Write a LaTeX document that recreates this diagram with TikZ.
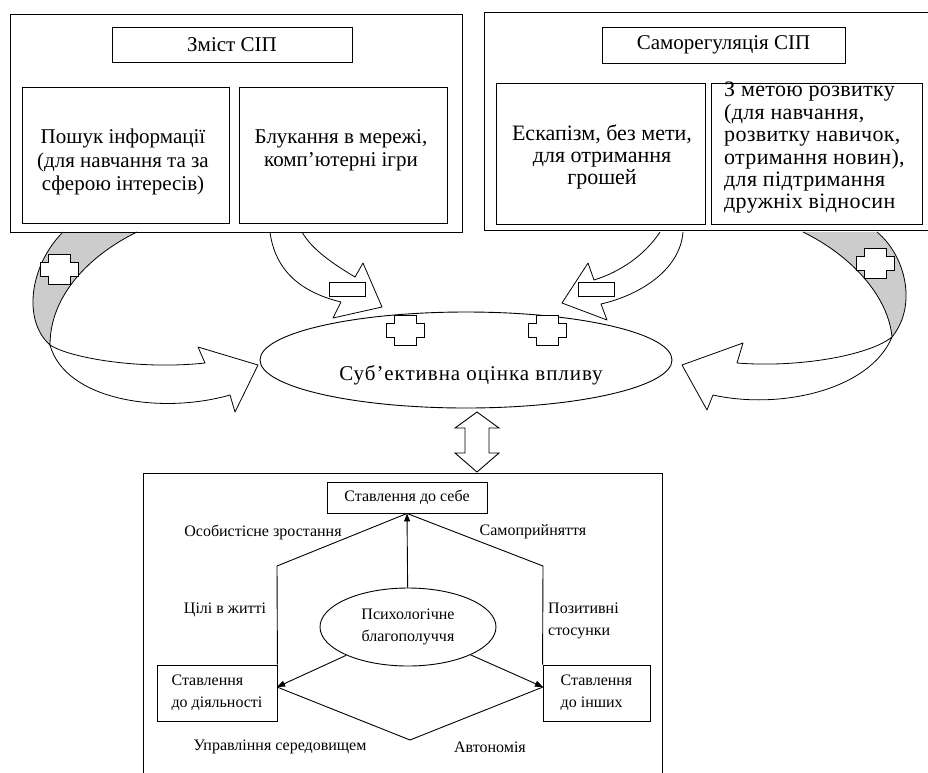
\documentclass[tikz,border=0pt]{standalone}
\usepackage{fontspec}
\setmainfont{Liberation Serif}
\usetikzlibrary{shapes.geometric,arrows.meta,calc}
\begin{document}
\begin{tikzpicture}[x=1pt,y=-1pt,
  box/.style={draw, line width=0.9pt, inner sep=0pt},
  ttxt/.style={font=\fontsize{21}{23.5}\selectfont, align=center, inner sep=0pt},
  rtxt/.style={font=\fontsize{22}{22.4}\selectfont, align=center, inner sep=0pt},
  btxt/.style={font=\fontsize{16}{22}\selectfont, align=center, inner sep=0pt},
  ribbon/.style={draw, line width=0.8pt, fill=white, line join=round},
  back/.style={draw, line width=0.8pt, fill=gray!40},
  sgn/.style={draw, line width=0.9pt, fill=white},
  link/.style={line width=0.9pt},
  tip/.style={-{Triangle[length=8pt,width=6pt]}},
  pluss/.pic={\draw[sgn] (-11,-15)--(11,-15)--(11,-7)--(19,-7)--(19,7)--(11,7)--(11,15)--(-11,15)--(-11,7)--(-19,7)--(-19,-7)--(-11,-7)--cycle;},
  minuss/.pic={\draw[sgn] (-18,-7) rectangle (18,7);}
]
\useasboundingbox (0,0) rectangle (928,772);

% ---------- curved arrows (drawn first) ----------
% left gray ribbon
\draw[back] (63,232) .. controls (30,265) and (22,320) .. (50,345)
  .. controls (50,295) and (90,255) .. (137,232);
\draw[ribbon] (50,345) .. controls (70,358) and (140,370) .. (205,363)
  -- (198,347) -- (258,365) -- (235,412) -- (230,395)
  .. controls (160,415) and (65,400) .. (50,345);
% right gray ribbon
\draw[back] (877,232) .. controls (905,255) and (918,305) .. (892,337)
  .. controls (888,295) and (850,255) .. (803,232);
\draw[ribbon] (892,337) .. controls (870,355) and (800,368) .. (737,363)
  -- (743,343) -- (682,365) -- (707,410) -- (713,395)
  .. controls (780,410) and (870,390) .. (892,337);
% middle-left white arrow
\draw[ribbon] (270,232) .. controls (275,270) and (300,292) .. (341,302)
  -- (333,318) -- (382,307) -- (363,263) -- (355,277)
  .. controls (335,265) and (312,250) .. (302,232);
% middle-right white arrow
\draw[ribbon] (660,232) .. controls (645,255) and (620,272) .. (594,280)
  -- (588,263) -- (562,303) -- (607,320) -- (601,304)
  .. controls (640,295) and (680,270) .. (683,232);

% ---------- top-left block ----------
\draw[link] (10,14) rectangle (462,232);
\node[box, minimum width=240pt, minimum height=35pt, ttxt] (zmist) at (232,44.5) {Зміст СІП};
\node[box, minimum width=207pt, minimum height=136pt] (pbox) at (125.5,155) {};
\node[ttxt] (ptxt) at (123,162) {Пошук інформації\\(для навчання та за\\сферою інтересів)};
\node[box, minimum width=208pt, minimum height=136pt] (bbox) at (343,155) {};
\node[ttxt] (btxt1) at (341,150.5) {Блукання в мережі,\\комп’ютерні ігри};

% ---------- top-right block ----------
\draw[link] (934,12) -- (484,12) -- (484,230) -- (934,230);
\node[box, minimum width=243pt, minimum height=36pt, ttxt] (samo) at (723.5,45) {Саморегуляція СІП};
\node[box, minimum width=209pt, minimum height=141pt] (ebox) at (600.5,153.5) {};
\node[rtxt] (etxt) at (602,157) {Ескапізм, без мети,\\для отримання\\грошей};
\node[box, minimum width=211pt, minimum height=141pt] (mbox) at (816.5,153.5) {};
\node[rtxt, font=\fontsize{22}{22.4}\selectfont\addfontfeatures{LetterSpace=1.5}, align=left, anchor=west] (mtxt) at (724,148) {З метою розвитку\\(для навчання,\\розвитку навичок,\\отримання новин),\\для підтримання\\дружніх відносин};

% ---------- signs on the ribbons ----------
\pic at (59,269) {pluss};
\pic at (875,263) {pluss};
\pic at (347,289) {minuss};
\pic at (596,289) {minuss};

% ---------- central ellipse ----------
\node[draw, line width=0.9pt, fill=white, ellipse, minimum width=412pt, minimum height=96pt, inner sep=0pt] (ocin) at (466,360) {};
\node[ttxt, font=\fontsize{21}{23.5}\selectfont\addfontfeatures{LetterSpace=4.5}] (ocintxt) at (471,375) {Суб’ективна оцінка впливу};
\pic at (405,330) {pluss};
\pic at (547,330) {pluss};

% ---------- double arrow ----------
\coordinate (dtop) at (477,412);
\coordinate (dbot) at (477,472);
\draw[sgn] (dtop) -- ++(22,16) -- ++(-10,0) -- ++(0,25) -- ++(10,0) -- (dbot)
  -- ++(-22,-19) -- ++(10,0) -- ++(0,-25) -- ++(-10,0) -- cycle;

% ---------- bottom block ----------
\draw[link] (143,780) -- (143,473) -- (662,473) -- (662,780);
\node[box, minimum width=160pt, minimum height=31pt, btxt] (selfbox) at (407,497.5) {Ставлення до себе};
\node[box, minimum width=120pt, minimum height=56pt, btxt, align=left] (actbox) at (217,693) {Ставлення\\до діяльності};
\node[box, minimum width=107pt, minimum height=56pt, btxt, align=left] (othbox) at (596.5,693) {Ставлення\\до інших};
\node[draw, line width=0.9pt, ellipse, minimum width=176pt, minimum height=78pt, inner sep=0pt, btxt] (psy) at (408,627) {Психологічне\\благополуччя};

\coordinate (hl) at (277,566);
\coordinate (hr) at (543,566);
\coordinate (hb) at (410,740);
\coordinate (al) at (277,687);
\coordinate (ar) at (543,687);
\draw[link] (selfbox.south) -- (hl) -- (actbox.north east);
\draw[link] (selfbox.south) -- (hr) -- (othbox.north west);
\draw[link] (al) -- (hb) -- (ar);
\draw[link,tip] (psy) -- (selfbox.south);
\draw[link,tip] (psy) -- (al);
\draw[link,tip] (psy) -- (ar);

\node[btxt] (l1) at (263,532) {Особистісне зростання};
\node[btxt] (l2) at (533,532) {Самоприйняття};
\node[btxt] (l3) at (225,610) {Цілі в житті};
\node[btxt, align=left, anchor=west] (l4) at (548,621) {Позитивні\\стосунки};
\node[btxt] (l5) at (280,747) {Управління середовищем};
\node[btxt] (l6) at (490,747) {Автономія};
\end{tikzpicture}
\end{document}
